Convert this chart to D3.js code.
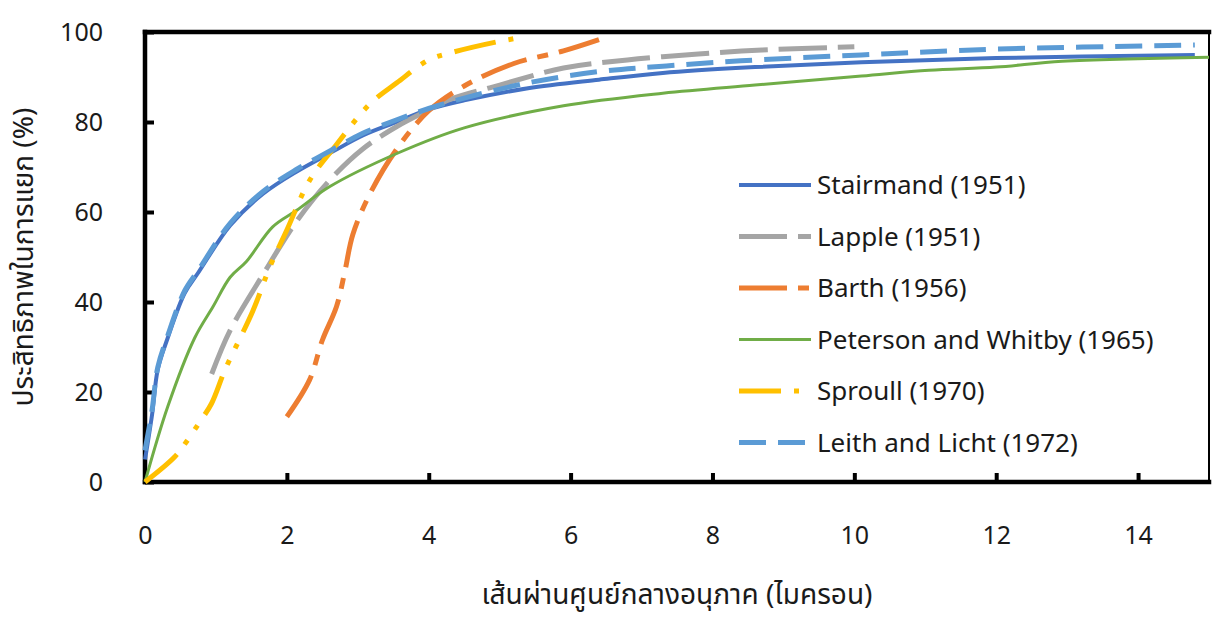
<!DOCTYPE html>
<html lang="th">
<head>
<meta charset="UTF-8">
<title>Cyclone efficiency curves</title>
<script src="https://d3js.org/d3.v7.min.js"></script>
<style>
    body {
        margin: 0;
        background-color: #ffffff;
    }
    text {
        font-family: "Noto Sans", "Noto Sans Thai", "Open Sans", sans-serif;
        fill: #1a1a1a;
    }
</style>
</head>
<body>
<div id="my_dataviz"></div>
<script>

//data
var names = ["Stairmand (1951)", "Lapple (1951)", "Barth (1956)", "Peterson and Whitby (1965)", "Sproull (1970)", "Leith and Licht (1972)"];

var stairmandX = [0, 0.1, 0.18, 0.32, 0.56, 0.75, 1.2, 1.66, 2.14, 2.6, 3.07, 3.55, 4.0, 4.5, 5.4, 6.4, 7.3, 8.6, 10.1, 12, 14.8];
var stairmandY = [5, 15, 25, 32, 42, 46.5, 57, 64, 69, 73, 77, 80, 82.8, 84.8, 87.5, 89.4, 90.9, 92.2, 93.3, 94.2, 94.9];

var lappleX = [0.94, 1.2, 1.66, 2.14, 2.6, 3.07, 3.55, 4.0, 4.3, 5.0, 5.9, 6.8, 7.8, 8.7, 10];
var lappleY = [24, 33.7, 46, 58, 67, 74, 79, 82.7, 85, 88.2, 92, 93.8, 95.1, 96, 96.7];

var barthX = [2.0, 2.32, 2.5, 2.7, 2.82, 2.93, 3.17, 3.55, 4.0, 4.5, 5.2, 5.9, 6.4];
var barthY = [14.5, 22.7, 31.5, 39, 47, 55, 64, 74, 82.5, 88, 93, 95.8, 98.3];

var petersonX = [0, 0.32, 0.7, 0.96, 1.2, 1.43, 1.8, 2.14, 2.6, 3.55, 4.5, 5.9, 7.3, 8.6, 10.1, 11.05, 12, 12.93, 15];
var petersonY = [0, 16.7, 32, 39, 45.5, 49, 56.7, 60.4, 65.6, 73, 78.7, 83.6, 86.4, 88.2, 90.2, 91.5, 92.2, 93.5, 94.4];

var sproullX = [0, 0.42, 0.6, 0.77, 0.94, 1.13, 1.52, 1.76, 2.0, 2.32, 2.7, 3.17, 3.55, 4.0, 4.34, 4.96, 5.35];
var sproullY = [0, 5.6, 9.3, 13.3, 17.5, 25, 38, 47.8, 56, 67, 75, 84, 88.7, 93.8, 95.5, 97.8, 98.9];

var leithX = [0, 0.1, 0.18, 0.32, 0.56, 0.75, 1.2, 1.66, 2.14, 2.6, 3.07, 3.55, 4.0, 4.5, 5.4, 6.4, 7.3, 8.4, 10.1, 12, 14.8];
var leithY = [7, 16, 25.5, 32.5, 42.5, 47, 57.5, 64.5, 69.5, 73.5, 77.5, 80.5, 83, 85.3, 88.7, 91.2, 92.4, 93.6, 94.9, 96.2, 97.1];

var xTicks = [0, 2, 4, 6, 8, 10, 12, 14];
var yTicks = [0, 20, 40, 60, 80, 100];

var xTitle = "เส้นผ่านศูนย์กลางอนุภาค (ไมครอน)";
var yTitle = "ประสิทธิภาพในการแยก (%)";

//line looks, same order as names
var colors = ["#4472c4", "#a5a5a5", "#ed7d31", "#70ad47", "#ffc000", "#5b9bd5"];
var widths = [4, 5, 5, 3, 5, 5];
var dashes = [null, "48 11", "48 11 11 11", null, "42 13 5 13 5 13", "27 12"];

var xs = [stairmandX, lappleX, barthX, petersonX, sproullX, leithX];
var ys = [stairmandY, lappleY, barthY, petersonY, sproullY, leithY];

var series = names.map(function(n, i) {
    return {
        name: n,
        color: colors[i],
        width: widths[i],
        dash: dashes[i],
        points: xs[i].map(function(v, j) { return [v, ys[i][j]]; })
    };
});

//dimensions and margins
var margin = {top: 32, right: 3, bottom: 135, left: 145},
    width = 1212 - margin.left - margin.right,
    height = 617 - margin.top - margin.bottom;

var svg = d3.select("#my_dataviz")
    .append("svg")
        .attr("width", 1212)
        .attr("height", 617)
    .append("g")
        .attr("transform", "translate(" + margin.left + "," + margin.top + ")");

//scales
var x = d3.scaleLinear()
    .domain([0, 15])
    .range([0, width]);

var y = d3.scaleLinear()
    .domain([0, 100])
    .range([height, 0]);

//x axis, ticks point inward
var xAxis = svg.append("g")
    .attr("transform", "translate(0," + height + ")")
    .call(d3.axisBottom(x).tickValues(xTicks).tickSize(-9).tickPadding(44).tickFormat(d3.format("d")));
xAxis.select(".domain").remove();
xAxis.selectAll("line").attr("stroke", "#000").attr("stroke-width", 4);
xAxis.selectAll("text").style("font-size", "25px");

//y axis
var yAxis = svg.append("g")
    .call(d3.axisLeft(y).tickValues(yTicks).tickSize(-9).tickPadding(42).tickFormat(d3.format("d")));
yAxis.select(".domain").remove();
yAxis.selectAll("line").attr("stroke", "#000").attr("stroke-width", 4);
yAxis.selectAll("text").style("font-size", "25px");

//frame
svg.append("line").attr("x1", x(15)).attr("x2", x(15)).attr("y1", y(100)).attr("y2", y(0))
    .attr("stroke", "#000").attr("stroke-width", 2);
svg.append("line").attr("x1", x(0)).attr("x2", x(15)).attr("y1", y(100)).attr("y2", y(100))
    .attr("stroke", "#000").attr("stroke-width", 4.5).attr("stroke-linecap", "square");
svg.append("line").attr("x1", x(0)).attr("x2", x(15)).attr("y1", y(0)).attr("y2", y(0))
    .attr("stroke", "#000").attr("stroke-width", 4.5).attr("stroke-linecap", "square");
svg.append("line").attr("x1", x(0)).attr("x2", x(0)).attr("y1", y(100)).attr("y2", y(0))
    .attr("stroke", "#000").attr("stroke-width", 4.5).attr("stroke-linecap", "square");

//curves, smoothed like the spreadsheet lines
var line = d3.line()
    .x(function(d) { return x(d[0]); })
    .y(function(d) { return y(d[1]); })
    .curve(d3.curveCatmullRom.alpha(0.5));

svg.selectAll("mycurve")
    .data(series)
    .enter()
    .append("path")
        .attr("d", function(d) { return line(d.points); })
        .attr("fill", "none")
        .attr("stroke", function(d) { return d.color; })
        .attr("stroke-width", function(d) { return d.width; })
        .attr("stroke-dasharray", function(d) { return d.dash; })
        .attr("stroke-linejoin", "round");

//axis titles
svg.append("text")
    .attr("x", width / 2)
    .attr("y", height + 122)
    .attr("text-anchor", "middle")
    .style("font-size", "28px")
    .text(xTitle);

svg.append("text")
    .attr("transform", "rotate(-90)")
    .attr("x", -height / 2)
    .attr("y", -112)
    .attr("text-anchor", "middle")
    .style("font-size", "28px")
    .text(yTitle);

//legend
var legend = svg.selectAll("mylegend")
    .data(series)
    .enter()
    .append("g")
        .attr("transform", function(d, i) { return "translate(" + (739 - margin.left) + "," + (185 - margin.top + i * 51.5) + ")"; });

legend.append("line")
    .attr("x1", 0)
    .attr("x2", 72)
    .attr("stroke", function(d) { return d.color; })
    .attr("stroke-width", function(d) { return d.width; })
    .attr("stroke-dasharray", function(d) { return d.dash; });

legend.append("text")
    .attr("x", 78)
    .attr("dy", "0.35em")
    .style("font-size", "26px")
    .text(function(d) { return d.name; });

</script>
</body>
</html>
